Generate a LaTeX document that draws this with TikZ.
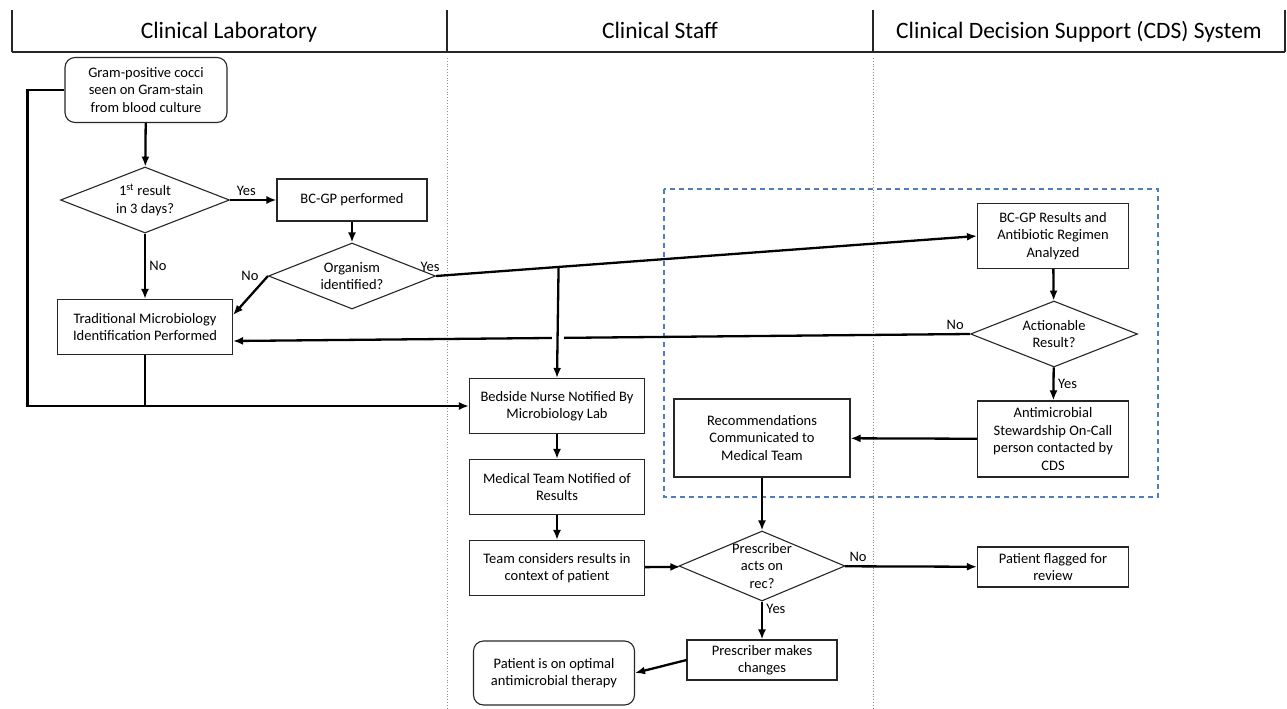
\documentclass[tikz,border=0pt]{standalone}
\usepackage{fontspec}
\setmainfont{Carlito}
\usetikzlibrary{positioning,shapes,arrows.meta,calc,intersections}

\newcommand{\boxfont}{\fontsize{14.5}{17.5}\selectfont}
\newcommand{\lanefont}{\fontsize{23.5}{28}\selectfont}
\definecolor{cdsblue}{RGB}{79,124,189}

\tikzset {
    box/.style={
        draw=black!85,
        line width=1.1pt,
        rectangle, % plain process step
        inner sep=2pt,
        align=center,
        font=\boxfont,
    },
    term/.style={
        box,
        rounded corners=10pt,
    },
    decide/.style={
        draw=black!85,
        line width=1.1pt,
        diamond, % question
        inner sep=0pt,
        minimum width=167pt,
        minimum height=66pt,
        label={[align=center, font=\boxfont]center:#1},
    },
    line/.style={line width=2.3pt, black},
    arr/.style={line, -{Latex[length=10pt,width=8pt]}},
    tag/.style={font=\boxfont},
    lane/.style={black!45, dotted, line width=0.8pt},
    head/.style={font=\lanefont, anchor=base},
}

\begin{document}
\begin{tikzpicture}[x=1pt, y=-1pt]
    \useasboundingbox (0,0) rectangle (1287,709);

    % header and lanes
    \draw[black!85, line width=1.3pt] (12,10) -- (12,52) (447,10) -- (447,52)
        (873,10) -- (873,52) (1285,10) -- (1285,52);
    \draw[black!85, line width=2pt] (12,52) -- (1285,52);
    \node[head] (labhead) at (229,39) {Clinical Laboratory};
    \node[head] (staffhead) at (660,39) {Clinical Staff};
    \node[head] (cdshead) at (1079,39) {Clinical Decision Support (CDS) System};
    \draw[lane] (447,58) -- (447,709);
    \draw[lane] (873,58) -- (873,709);
    \draw[cdsblue, dashed, line width=1.2pt, dash pattern=on 5pt off 4pt] (664,189) rectangle (1158,497);

    % laboratory
    \node[term, minimum width=162pt, minimum height=65pt] at (146,90) (start) {Gram-positive cocci\\seen on Gram-stain\\from blood culture};
    \node[decide={1\textsuperscript{st} result\\in 3 days?}, minimum width=169pt] at (145,200) (first) {};
    \node[box, minimum width=150pt, minimum height=42pt] at (352,200) (bcgp) {BC-GP performed};
    \node[decide={Organism\\identified?}] at (352,276) (organism) {};
    \node[box, minimum width=175pt, minimum height=55pt] at (145,327) (trad) {Traditional Microbiology\\Identification Performed};

    % staff
    \node[box, minimum width=175pt, minimum height=55pt] at (557,406) (bedside) {Bedside Nurse Notified By\\Microbiology Lab};
    \node[box, minimum width=175pt, minimum height=55pt] at (557,487) (medteam) {Medical Team Notified of\\Results};
    \node[box, minimum width=175pt, minimum height=55pt] at (557,568) (team) {Team considers results in\\context of patient};
    \node[box, minimum width=176pt, minimum height=78pt] at (762,438) (rec) {Recommendations\\Communicated to\\Medical Team};
    \node[decide={Prescriber\\acts on\\rec?}, minimum width=166pt, minimum height=70pt] at (762,566) (prescriber) {};
    \node[box, minimum width=150pt, minimum height=40pt] at (762,660) (changes) {Prescriber makes\\changes};
    \node[term, minimum width=161pt, minimum height=64pt] at (554,673) (optimal) {Patient is on optimal\\antimicrobial therapy};

    % cds
    \node[box, minimum width=151pt, minimum height=65pt] at (1053,236) (analyzed) {BC-GP Results and\\Antibiotic Regimen\\Analyzed};
    \node[decide={Actionable\\Result?}] at (1054,334) (actionable) {};
    \node[box, minimum width=151pt, minimum height=76pt] at (1053,439) (steward) {Antimicrobial\\Stewardship On-Call\\person contacted by\\CDS};
    \node[box, minimum width=151pt, minimum height=40pt] at (1053,567) (flagged) {Patient flagged for\\review};

    \draw[arr] (start) -- (first);
    \draw[arr] (first) -- node[tag, pos=0.35, above] (yes1) {Yes} (bcgp);
    \draw[arr] (first) -- node[tag, midway, right] (no1) {No} (trad);
    \draw[arr] (bcgp) -- (organism);
    \draw[arr] (organism.west) -- node[tag, pos=0, left, xshift=-5pt] (no2) {No} ([yshift=12pt]trad.east);
    \draw[arr] (organism.east) -- node[tag, pos=0, above, xshift=-6pt] (yes2) {Yes}
        coordinate[pos=0.2265] (split) (analyzed.west);
    \draw[arr, name path=noline] (actionable.west) -- node[tag, pos=0.02, above] (no3) {No} ([yshift=-14pt]trad.east);
    \path[name path=branch] (split) -- (bedside.north);
    \path[name intersections={of=noline and branch, by=hop}];
    \fill[white] ([shift={(-6pt,-4pt)}]hop) rectangle ([shift={(6pt,4pt)}]hop);
    \draw[arr] (split) -- (bedside.north);
    \draw[arr] (start.west) -- ++(-37,0) |- (bedside.west);
    \draw[line] (trad.south) -- (trad.south |- bedside.west);
    \draw[arr] (bedside) -- (medteam);
    \draw[arr] (medteam) -- (team);
    \draw[arr] (team) -- (prescriber);
    \draw[arr] (analyzed) -- (actionable);
    \draw[arr] (actionable) -- node[tag, midway, right] (yes3) {Yes} (steward);
    \draw[arr] (steward) -- (rec);
    \draw[arr] (rec) -- (prescriber);
    \draw[arr] (prescriber) -- node[tag, pos=0.1, above] (no4) {No} (flagged);
    \draw[arr] (prescriber) -- node[tag, pos=0.2, right] (yes4) {Yes} (changes);
    \draw[arr] (changes.west) -- (optimal.east);
\end{tikzpicture}
\end{document}
